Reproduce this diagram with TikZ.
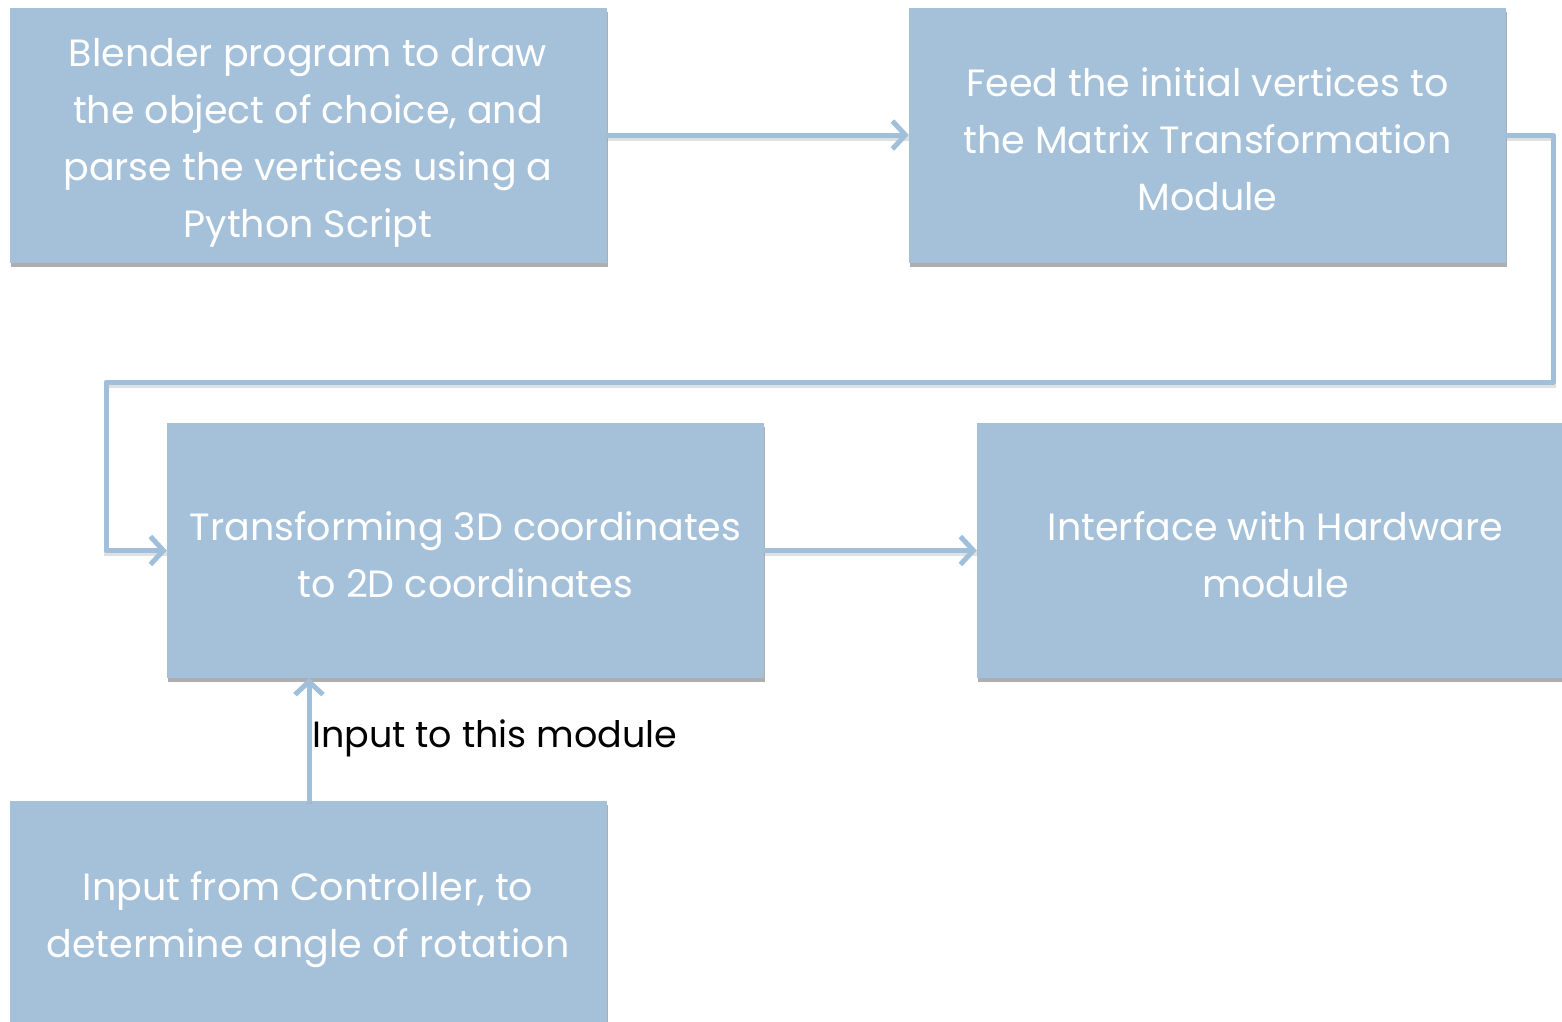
\documentclass[tikz,border=0pt]{standalone}
\usepackage{fontspec}
\setmainfont{Poppins}
\usetikzlibrary{arrows.meta,shadows,calc}
\definecolor{boxblue}{HTML}{A5C1DA}
\definecolor{lineblue}{HTML}{A0BFDA}
\tikzset{
  blk/.style={rectangle, fill=boxblue, minimum width=597pt, minimum height=255pt,
    inner sep=0pt,
    drop shadow={shadow xshift=1pt, shadow yshift=-4pt, opacity=0.45, fill=black!70}},
  blktext/.style={text=white, align=center, inner sep=0pt, font=\fontsize{38}{57}\selectfont},
  conn/.style={draw=lineblue, line width=5pt, line cap=round, line join=round,
    -{Straight Barb[length=13pt, width=28pt]},
    preaction={draw=black!40, line width=5pt, transform canvas={yshift=-3pt}, opacity=0.3, -{}}}
}
\begin{document}
\begin{tikzpicture}[x=1pt,y=-1pt]
\useasboundingbox (0,0) rectangle (1562,1021);
\clip (0,0) rectangle (1562,1021);
\node[blk] (a) at (308,135) {};
\node[blktext] (at) at (308,143) {Blender program to draw\\the object of choice, and\\parse the vertices using a\\Python Script};
\node[blk] (b) at (1207.5,135) {};
\node[blktext] (bt) at (1207.5,139) {Feed the initial vertices to\\the Matrix Transformation\\Module};
\node[blk] (c) at (465.5,550.5) {};
\node[blktext] (ct) at (465.5,554.5) {Transforming 3D coordinates\\to 2D coordinates};
\node[blk] (d) at (1275.5,550.5) {};
\node[blktext] (dt) at (1275.5,554.5) {Interface with Hardware\\module};
\node[blk] (e) at (308,928.5) {};
\node[blktext] (et) at (308,920) {Input from Controller, to\\determine angle of rotation};
\coordinate (r1) at (1553,135);
\coordinate (r2) at (1553,382);
\coordinate (l1) at (106,382);
\coordinate (l2) at (106,550.5);
\path[conn] (a.east) -- (b.west);
\path[conn] (b.east) -- (r1) -- (r2) -- (l1) -- (l2) -- (c.west);
\path[conn] (c.east) -- (d.west);
\path[conn] (e.north -| 309,0) -- (c.south -| 309,0);
\node[anchor=west, text=black, font=\fontsize{36.5}{40}\selectfont, inner sep=0pt] (lab) at (312,738) {Input to this module};
\end{tikzpicture}
\end{document}
